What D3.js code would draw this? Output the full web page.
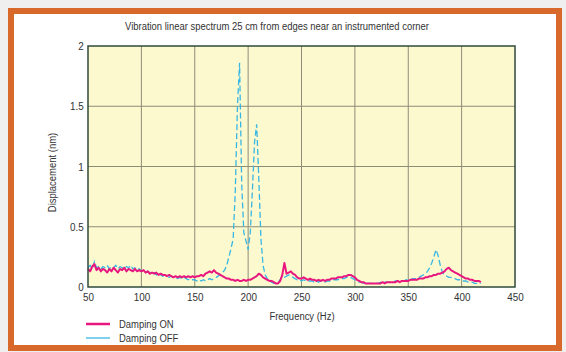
<!DOCTYPE html>
<html><head><meta charset="utf-8">
<script src="https://cdn.jsdelivr.net/npm/d3@7"></script>
<style>
html,body{margin:0;padding:0;background:#efefef;}
svg{display:block;}
text{font-family:"Liberation Sans Narrow","Arial Narrow","Liberation Sans",sans-serif;fill:#333;}
</style></head>
<body>
<svg id="chart" width="566" height="352"></svg>
<script>
const title = "Vibration linear spectrum 25 cm from edges near an instrumented corner";
const xLabel = "Frequency (Hz)";
const yLabel = "Displacement (nm)";
const xTicks = [50,100,150,200,250,300,350,400,450];
const yTicks = [0,0.5,1,1.5,2];
const seriesNames = ["Damping ON","Damping OFF"];
const freqs = d3.range(50, 419, 2);
const dampingOn = [
.15,.13,.17,.19,.14,.16,.13,.15,.14,.12,.15,.13,.16,.14,.12,.15,.14,.16,.13,.15,.14,.13,.15,.13,.14,.13,
.14,.12,.13,.11,.12,.11,.12,.10,.11,.10,.10,.09,.10,.09,.08,.09,.08,.09,.08,.09,.08,.09,.08,.09,.08,
.09,.09,.10,.09,.11,.12,.13,.12,.14,.12,.11,.10,.09,.08,.07,.07,.06,.06,.05,.06,.05,.05,.06,.05,.06,
.06,.07,.08,.09,.11,.10,.08,.07,.06,.05,.05,.04,.03,.03,.05,.10,.20,.11,.12,.13,.11,.10,.08,.07,.07,
.08,.07,.06,.07,.06,.06,.05,.06,.05,.06,.05,.06,.06,.07,.07,.07,.08,.08,.08,.09,.09,.10,.10,.09,.08,
.06,.05,.04,.04,.03,.03,.03,.03,.03,.03,.03,.03,.04,.03,.04,.04,.04,.04,.04,.05,.04,.05,.05,.05,.05,
.06,.06,.06,.06,.07,.07,.07,.08,.08,.09,.09,.10,.10,.11,.11,.12,.13,.15,.16,.14,.13,.12,.11,.10,.09,
.08,.07,.07,.06,.06,.05,.05,.05,.04];
const dampingOff = [
.16,.18,.15,.21,.16,.17,.15,.17,.16,.18,.15,.17,.16,.18,.15,.17,.16,.15,.17,.16,.18,.15,.16,.14,.15,.13,
.13,.12,.13,.12,.11,.12,.10,.11,.10,.09,.10,.09,.08,.09,.08,.08,.07,.08,.07,.08,.07,.06,.07,.06,.06,
.05,.06,.05,.06,.05,.06,.07,.06,.07,.08,.09,.11,.12,.14,.18,.25,.32,.40,.80,1.50,1.86,.85,.45,.38,.31,
.45,.80,1.20,1.35,.90,.40,.18,.10,.07,.05,.04,.03,.03,.04,.06,.09,.08,.09,.10,.09,.08,.07,.06,.06,.05,
.06,.05,.05,.05,.05,.04,.05,.04,.05,.05,.04,.05,.05,.05,.06,.06,.06,.07,.07,.07,.08,.08,.08,.07,.06,
.05,.04,.04,.03,.03,.03,.03,.03,.03,.03,.03,.04,.03,.04,.04,.04,.04,.04,.05,.05,.05,.05,.05,.06,.06,
.06,.07,.07,.07,.08,.09,.10,.11,.13,.16,.20,.25,.31,.26,.18,.12,.10,.09,.08,.08,.07,.07,.06,.06,.05,
.05,.05,.04,.04,.04,.03,.03,.03,.03];
const colors = ["#e8177f","#39b7e3"];
const NARROW = 0.86;

const svg = d3.select("#chart");
// frame
svg.append("rect").attr("x",11).attr("y",11).attr("width",548).attr("height",337)
  .attr("fill","#ffffff").attr("stroke","#d8692a").attr("stroke-width",6);

const m = {left:88, right:515, top:46, bottom:287};
const x = d3.scaleLinear().domain([50,450]).range([m.left,m.right]);
const y = d3.scaleLinear().domain([0,2]).range([m.bottom,m.top]);

svg.append("rect").attr("x",m.left).attr("y",m.top).attr("width",m.right-m.left).attr("height",m.bottom-m.top)
  .attr("fill","#fdf9cf");

// grid
const g = svg.append("g");
g.selectAll(".vx").data(xTicks.slice(1,-1)).join("line")
  .attr("x1",d=>x(d)).attr("x2",d=>x(d)).attr("y1",m.top).attr("y2",m.bottom)
  .attr("stroke","#8c8c78").attr("stroke-width",1);
g.selectAll(".hy").data(yTicks.slice(1,-1)).join("line")
  .attr("y1",d=>y(d)).attr("y2",d=>y(d)).attr("x1",m.left).attr("x2",m.right)
  .attr("stroke","#8c8c78").attr("stroke-width",1);

// series
const line = (vals) => d3.line().x((d,i)=>x(freqs[i])).y(d=>y(d))(vals);
svg.append("path").attr("d",line(dampingOff)).attr("fill","none")
  .attr("stroke",colors[1]).attr("stroke-width",1.3).attr("stroke-dasharray","6,3");
svg.append("path").attr("d",line(dampingOn)).attr("fill","none")
  .attr("stroke",colors[0]).attr("stroke-width",2).attr("stroke-linejoin","round");

// frame of plot
svg.append("rect").attr("x",m.left).attr("y",m.top).attr("width",m.right-m.left).attr("height",m.bottom-m.top)
  .attr("fill","none").attr("stroke","#2f4a3c").attr("stroke-width",1.5);

// axes
const xa = svg.append("g").attr("transform",`translate(0,${m.bottom})`)
  .call(d3.axisBottom(x).tickValues(xTicks).tickSize(0).tickPadding(6).tickFormat(d3.format("d")));
xa.select(".domain").remove();
xa.selectAll("text").attr("font-size",11.5).attr("transform",`scale(${NARROW},1)`).style("fill","#333");
const ya = svg.append("g").attr("transform",`translate(${m.left},0)`)
  .call(d3.axisLeft(y).tickValues(yTicks).tickSize(0).tickPadding(5).tickFormat(d=>String(d)));
ya.select(".domain").remove();
ya.selectAll("text").attr("font-size",11.5).attr("transform",`scale(${NARROW},1)`).style("fill","#333");

function label(txt, tx, ty, size, anchor, rot) {
  svg.append("text").attr("transform",`translate(${tx},${ty})${rot?` rotate(${rot})`:""} scale(${NARROW},1)`)
    .attr("text-anchor",anchor).attr("font-size",size).text(txt);
}
label(title, 277, 30, 11, "middle");
label(xLabel, 302, 320, 11, "middle");
label(yLabel, 56, (m.top+m.bottom)/2+6, 11, "middle", -90);

// legend
seriesNames.forEach((n,i)=>{
  const yy = 324 + i*14;
  svg.append("line").attr("x1",86).attr("x2",110).attr("y1",yy).attr("y2",yy)
    .attr("stroke",colors[i]).attr("stroke-width",i===0?2.5:1.3);
  label(n, 119, yy+4, 11, "start");
});
</script>
</body></html>
